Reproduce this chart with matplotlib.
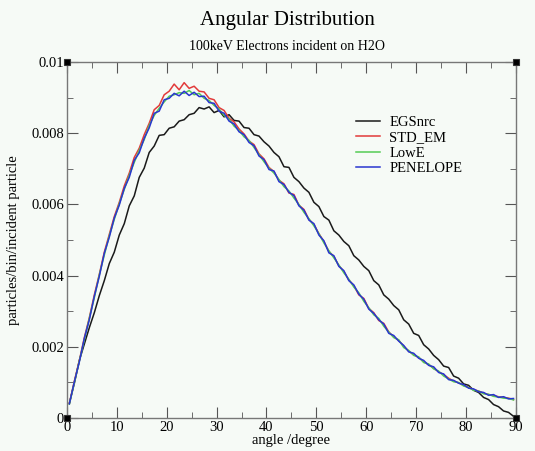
import matplotlib.pyplot as plt
import numpy as np
from matplotlib.ticker import MultipleLocator

# Bin centres in degrees (1 degree bins)
angles = np.arange(0.5, 90, 1.0)

# Series values (particles/bin/incident particle)
egsnrc = [0.00042, 0.00098, 0.00162, 0.00208, 0.00254, 0.00296, 0.00344, 0.00386, 0.00434, 0.00466,
          0.00514, 0.00546, 0.00596, 0.00624, 0.00676, 0.00702, 0.00746, 0.00764, 0.00794, 0.00796,
          0.00814, 0.00818, 0.00834, 0.00838, 0.00852, 0.00856, 0.00872, 0.00868, 0.00874, 0.00858,
          0.00864, 0.00846, 0.00852, 0.00836, 0.00834, 0.00816, 0.00814, 0.00796, 0.00792, 0.00776,
          0.00764, 0.00746, 0.00734, 0.00706, 0.00704, 0.00676, 0.00664, 0.00646, 0.00634, 0.00606,
          0.00594, 0.00566, 0.00556, 0.00526, 0.00514, 0.00496, 0.00484, 0.00456, 0.00444, 0.00426,
          0.00414, 0.00386, 0.00374, 0.00346, 0.00334, 0.00316, 0.00304, 0.00276, 0.00264, 0.00238,
          0.00232, 0.00206, 0.00194, 0.00176, 0.00164, 0.00146, 0.00142, 0.00118, 0.00112, 0.00096,
          0.00092, 0.00078, 0.00072, 0.00058, 0.00052, 0.00038, 0.00032, 0.00020, 0.00016, 0.00005]

std_em = [0.00041, 0.00104, 0.00162, 0.00226, 0.00282, 0.00346, 0.00404, 0.00466, 0.00516, 0.00566,
          0.00606, 0.00652, 0.00688, 0.00732, 0.00758, 0.00796, 0.00828, 0.00866, 0.00878, 0.00908,
          0.00918, 0.00938, 0.00922, 0.00942, 0.00926, 0.00932, 0.00918, 0.00916, 0.00898, 0.00894,
          0.00872, 0.00864, 0.00842, 0.00832, 0.00812, 0.00798, 0.00778, 0.00768, 0.00742, 0.00728,
          0.00704, 0.00692, 0.00668, 0.00658, 0.00632, 0.00628, 0.00598, 0.00586, 0.00558, 0.00544,
          0.00518, 0.00496, 0.00468, 0.00454, 0.00428, 0.00412, 0.00388, 0.00372, 0.00346, 0.00336,
          0.00308, 0.00296, 0.00274, 0.00266, 0.00242, 0.00228, 0.00218, 0.00202, 0.00188, 0.00178,
          0.00170, 0.00158, 0.00150, 0.00140, 0.00130, 0.00122, 0.00112, 0.00104, 0.00099, 0.00092,
          0.00086, 0.00080, 0.00076, 0.00070, 0.00066, 0.00063, 0.00060, 0.00058, 0.00056, 0.00052]

lowe = [0.00039, 0.00100, 0.00160, 0.00220, 0.00280, 0.00338, 0.00402, 0.00458, 0.00512, 0.00558,
        0.00602, 0.00642, 0.00682, 0.00718, 0.00752, 0.00782, 0.00822, 0.00850, 0.00870, 0.00888,
        0.00904, 0.00908, 0.00914, 0.00912, 0.00920, 0.00908, 0.00912, 0.00898, 0.00892, 0.00878,
        0.00868, 0.00850, 0.00840, 0.00820, 0.00808, 0.00790, 0.00780, 0.00760, 0.00740, 0.00720,
        0.00702, 0.00688, 0.00670, 0.00650, 0.00638, 0.00618, 0.00600, 0.00578, 0.00560, 0.00540,
        0.00518, 0.00492, 0.00470, 0.00450, 0.00430, 0.00408, 0.00390, 0.00368, 0.00352, 0.00328,
        0.00310, 0.00290, 0.00280, 0.00258, 0.00242, 0.00226, 0.00220, 0.00198, 0.00190, 0.00176,
        0.00172, 0.00156, 0.00152, 0.00138, 0.00132, 0.00118, 0.00110, 0.00102, 0.00100, 0.00090,
        0.00086, 0.00078, 0.00076, 0.00068, 0.00067, 0.00061, 0.00059, 0.00056, 0.00055, 0.00051]

penelope = [0.00040, 0.00102, 0.00158, 0.00224, 0.00276, 0.00342, 0.00398, 0.00463, 0.00508, 0.00562,
            0.00598, 0.00645, 0.00676, 0.00724, 0.00745, 0.00786, 0.00815, 0.00856, 0.00862, 0.00894,
            0.00898, 0.00912, 0.00905, 0.00918, 0.00906, 0.00915, 0.00903, 0.00904, 0.00886, 0.00884,
            0.00862, 0.00856, 0.00834, 0.00826, 0.00804, 0.00796, 0.00774, 0.00765, 0.00736, 0.00726,
            0.00698, 0.00694, 0.00664, 0.00656, 0.00634, 0.00625, 0.00596, 0.00584, 0.00556, 0.00546,
            0.00514, 0.00498, 0.00464, 0.00456, 0.00426, 0.00414, 0.00386, 0.00374, 0.00348, 0.00334,
            0.00306, 0.00294, 0.00276, 0.00264, 0.00238, 0.00232, 0.00216, 0.00204, 0.00186, 0.00182,
            0.00168, 0.00162, 0.00148, 0.00144, 0.00128, 0.00124, 0.00108, 0.00106, 0.00098, 0.00094,
            0.00084, 0.00082, 0.00074, 0.00072, 0.00064, 0.00066, 0.00058, 0.00060, 0.00054, 0.00055]

series_names = ["EGSnrc", "STD_EM", "LowE", "PENELOPE"]
series_colors = ["#1a1a1a", "#e23a3a", "#55cc55", "#2a35d0"]

plt.rcParams['font.family'] = ['Liberation Serif', 'DejaVu Serif']

bg = '#f6faf6'
fig = plt.figure(figsize=(5.35, 4.51), dpi=100, facecolor=bg)
ax = fig.add_axes([0.125, 0.073, 0.8395, 0.7895], facecolor=bg)

for vals, name, col in zip([egsnrc, std_em, lowe, penelope], series_names, series_colors):
    ax.plot(angles, vals, color=col, linewidth=1.1, label=name)

ax.set_xlim(0, 90)
ax.set_ylim(0, 0.01)
ax.xaxis.set_major_locator(MultipleLocator(10))
ax.xaxis.set_minor_locator(MultipleLocator(5))
ax.yaxis.set_major_locator(MultipleLocator(0.002))
ax.yaxis.set_minor_locator(MultipleLocator(0.001))
ax.yaxis.set_major_formatter(plt.FuncFormatter(lambda v, p: '0' if v == 0 else ('%g' % v)))

ax.tick_params(which='both', direction='in', top=True, right=True, color='#555555',
               labelsize=10.5, pad=2)
ax.tick_params(which='major', length=8)
ax.tick_params(which='minor', length=4)
for s in ax.spines.values():
    s.set_color('#777777')
    s.set_linewidth(1.0)

# corner markers
for cx, cy in [(0, 0), (0, 1), (1, 1), (1, 0)]:
    ax.plot(cx, cy, marker='s', ms=4.5, mfc='black', mec='#333333', mew=0.8,
            transform=ax.transAxes, clip_on=False, zorder=5)

ax.set_xlabel('angle /degree', fontsize=10.5, labelpad=0)
ax.set_ylabel('particles/bin/incident particle', fontsize=10.5, labelpad=8)

fig.text(0.537, 0.955, 'Angular Distribution', ha='center', va='center', fontsize=15)
fig.text(0.537, 0.897, '100keV Electrons incident on H2O', ha='center', va='center', fontsize=10)

ax.legend(loc='upper left', bbox_to_anchor=(0.63, 0.865), frameon=False, fontsize=10.5,
          handlelength=1.7, handletextpad=0.6, labelspacing=0.15, borderaxespad=0)

fig.savefig('out.png', dpi=100, facecolor=bg)
